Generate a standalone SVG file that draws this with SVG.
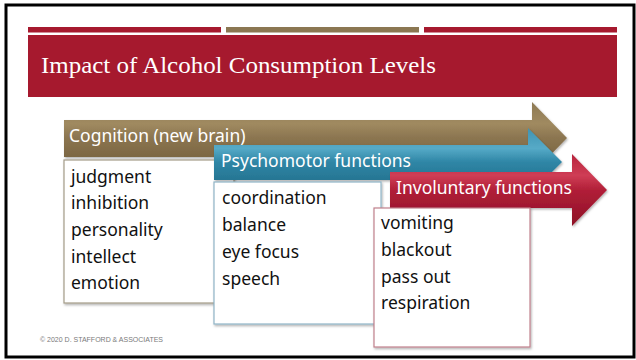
<svg xmlns="http://www.w3.org/2000/svg" width="636" height="360" viewBox="0 0 636 360">
<defs>
<linearGradient id="gTan" x1="0" y1="0" x2="0" y2="1">
<stop offset="0" stop-color="#8e7a55"/><stop offset="0.3" stop-color="#a08a60"/><stop offset="0.5" stop-color="#8b7550"/><stop offset="1" stop-color="#6f5a38"/>
</linearGradient>
<linearGradient id="gBlue" x1="0" y1="0" x2="0" y2="1">
<stop offset="0" stop-color="#3f93b2"/><stop offset="0.3" stop-color="#56aac7"/><stop offset="0.5" stop-color="#2f86a6"/><stop offset="1" stop-color="#1f6782"/>
</linearGradient>
<linearGradient id="gRed" x1="0" y1="0" x2="0" y2="1">
<stop offset="0" stop-color="#b8243d"/><stop offset="0.3" stop-color="#cf3d55"/><stop offset="0.5" stop-color="#b11f38"/><stop offset="1" stop-color="#8e1026"/>
</linearGradient>
<filter id="sh" x="-5%" y="-5%" width="115%" height="115%">
<feDropShadow dx="1" dy="1.5" stdDeviation="1" flood-color="#000" flood-opacity="0.3"/>
</filter>
</defs>
<style>
.hd{font-family:"Noto Sans","DejaVu Sans",sans-serif;font-size:17.5px;fill:#ffffff}
.it{font-family:"Noto Sans","DejaVu Sans",sans-serif;font-size:17.5px;fill:#111111}
.box{fill:#ffffff;stroke-width:1.2}
</style>
<rect x="0" y="0" width="636" height="360" fill="#ffffff"/>
<rect x="6" y="5" width="628" height="352" fill="none" stroke="#000" stroke-width="3"/>
<g id="header">
<rect x="28" y="27" width="193" height="5.5" fill="#a6192e"/>
<rect x="226" y="27" width="193" height="5.5" fill="#8b7752"/>
<rect x="424" y="27" width="193" height="5.5" fill="#a6192e"/>
<rect x="28" y="35" width="589" height="62" fill="#a6192e"/>
<text x="41" y="73" font-family="'Liberation Serif','DejaVu Serif',serif" font-size="24" fill="#ffffff" textLength="395" lengthAdjust="spacingAndGlyphs">Impact of Alcohol Consumption Levels</text>
</g>
<g id="cognition">
<path d="M64,120 H532 V102 L567,138 L532,174 V157 H64 Z" fill="url(#gTan)" filter="url(#sh)"/>
<text class="hd" x="69" y="142">Cognition (new brain)</text>
<rect class="box" x="64" y="160" width="170" height="143" stroke="#a39b88" filter="url(#sh)"/>
<text class="it" x="71" y="183">judgment</text>
<text class="it" x="71" y="209">inhibition</text>
<text class="it" x="71" y="236">personality</text>
<text class="it" x="71" y="263">intellect</text>
<text class="it" x="71" y="289">emotion</text>
</g>
<g id="psychomotor">
<path d="M214,145 H528 V128 L562,162 L528,196 V180 H214 Z" fill="url(#gBlue)" filter="url(#sh)"/>
<text class="hd" x="221" y="167">Psychomotor functions</text>
<rect class="box" x="214" y="182" width="167" height="142" stroke="#8fb4c6" filter="url(#sh)"/>
<text class="it" x="222" y="204">coordination</text>
<text class="it" x="222" y="231">balance</text>
<text class="it" x="222" y="258">eye focus</text>
<text class="it" x="222" y="285">speech</text>
</g>
<g id="involuntary">
<path d="M390,172 H572 V154 L607,190 L572,226 V208 H390 Z" fill="url(#gRed)" filter="url(#sh)"/>
<text class="hd" x="396" y="194">Involuntary functions</text>
<rect class="box" x="374" y="208" width="156" height="139" stroke="#c0808c" filter="url(#sh)"/>
<text class="it" x="381" y="229">vomiting</text>
<text class="it" x="381" y="256">blackout</text>
<text class="it" x="381" y="283">pass out</text>
<text class="it" x="381" y="309">respiration</text>
</g>
<g id="footer">
<text x="40" y="342" font-family="'Liberation Sans Narrow','Liberation Sans',sans-serif" font-size="7.5" fill="#7a7a7a" textLength="123" lengthAdjust="spacingAndGlyphs">© 2020 D. STAFFORD &amp; ASSOCIATES</text>
</g>
</svg>
